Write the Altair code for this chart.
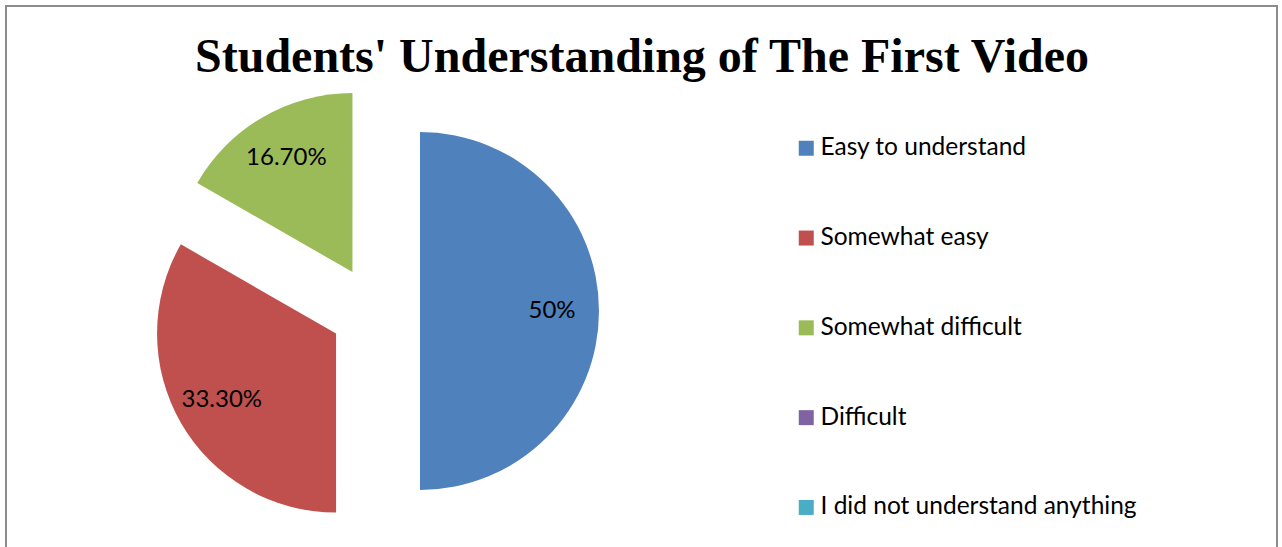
import altair as alt
import pandas as pd

categories = ["Easy to understand", "Somewhat easy", "Somewhat difficult", "Difficult",
              "I did not understand anything"]
values = [50, 33.3, 16.7, 0, 0]
labels = ["50%", "33.30%", "16.70%", "", ""]
colors = ["#4F81BD", "#C0504D", "#9BBB59", "#8064A2", "#4BACC6"]
title_text = "Students' Understanding of The First Video"

df = pd.DataFrame({"category": categories, "value": values, "label": labels,
                   "order": list(range(len(categories)))})

CX, CY, R, EXPLODE, LR = 375, 311, 179, 45, 132

base = alt.Chart(df).transform_joinaggregate(
    total="sum(value)"
).transform_window(
    cum="sum(value)", sort=[alt.SortField("order")], frame=[None, 0]
).transform_calculate(
    t1="datum.cum / datum.total * 2 * PI",
    t0="(datum.cum - datum.value) / datum.total * 2 * PI",
).transform_calculate(
    mid="(datum.t0 + datum.t1) / 2"
).transform_calculate(
    px=f"{CX} + {EXPLODE} * sin(datum.mid)",
    py=f"{CY} - {EXPLODE} * cos(datum.mid)",
).transform_calculate(
    lx=f"datum.px + {LR} * sin(datum.mid)",
    ly=f"datum.py - {LR} * cos(datum.mid)",
)

color = alt.Color(
    "category:N",
    scale=alt.Scale(domain=categories, range=colors),
    sort=categories,
    legend=alt.Legend(
        title=None, orient="none", legendX=794, legendY=136,
        symbolType="square", symbolSize=225, symbolStrokeWidth=0,
        labelFont="Lato", labelFontSize=24.5, labelColor="#000000",
        labelOffset=2, rowPadding=64.8, padding=0, labelLimit=400,
    ),
)

arcs = base.mark_arc(radius=R, stroke=None).encode(
    x=alt.X("px:Q", scale=None, axis=None),
    y=alt.Y("py:Q", scale=None, axis=None),
    theta=alt.Theta("t0:Q", scale=None),
    theta2="t1:Q",
    color=color,
)

texts = base.transform_filter("datum.value > 0").mark_text(
    font="Lato", fontSize=24, color="#000000", align="center", baseline="middle"
).encode(
    x=alt.X("lx:Q", scale=None, axis=None),
    y=alt.Y("ly:Q", scale=None, axis=None),
    text="label:N",
)

title = alt.Chart(pd.DataFrame({"t": [title_text]})).mark_text(
    font="Liberation Serif", fontWeight="bold", fontSize=48, color="#000000",
    align="center", baseline="alphabetic"
).encode(x=alt.value(642), y=alt.value(72), text="t:N")

border = alt.Chart(pd.DataFrame({"a": [0]})).mark_rect(
    fill=None, stroke="#8C8C8C", strokeWidth=2
).encode(x=alt.value(6), x2=alt.value(1277), y=alt.value(6), y2=alt.value(600))

chart = alt.layer(border, arcs, texts, title).properties(
    width=1282, height=547, padding=0, autosize=alt.AutoSizeParams(type="none"),
    background="#FFFFFF",
).configure_view(stroke=None)

chart.save("out.html", embed_options={"renderer": "svg", "actions": False})
